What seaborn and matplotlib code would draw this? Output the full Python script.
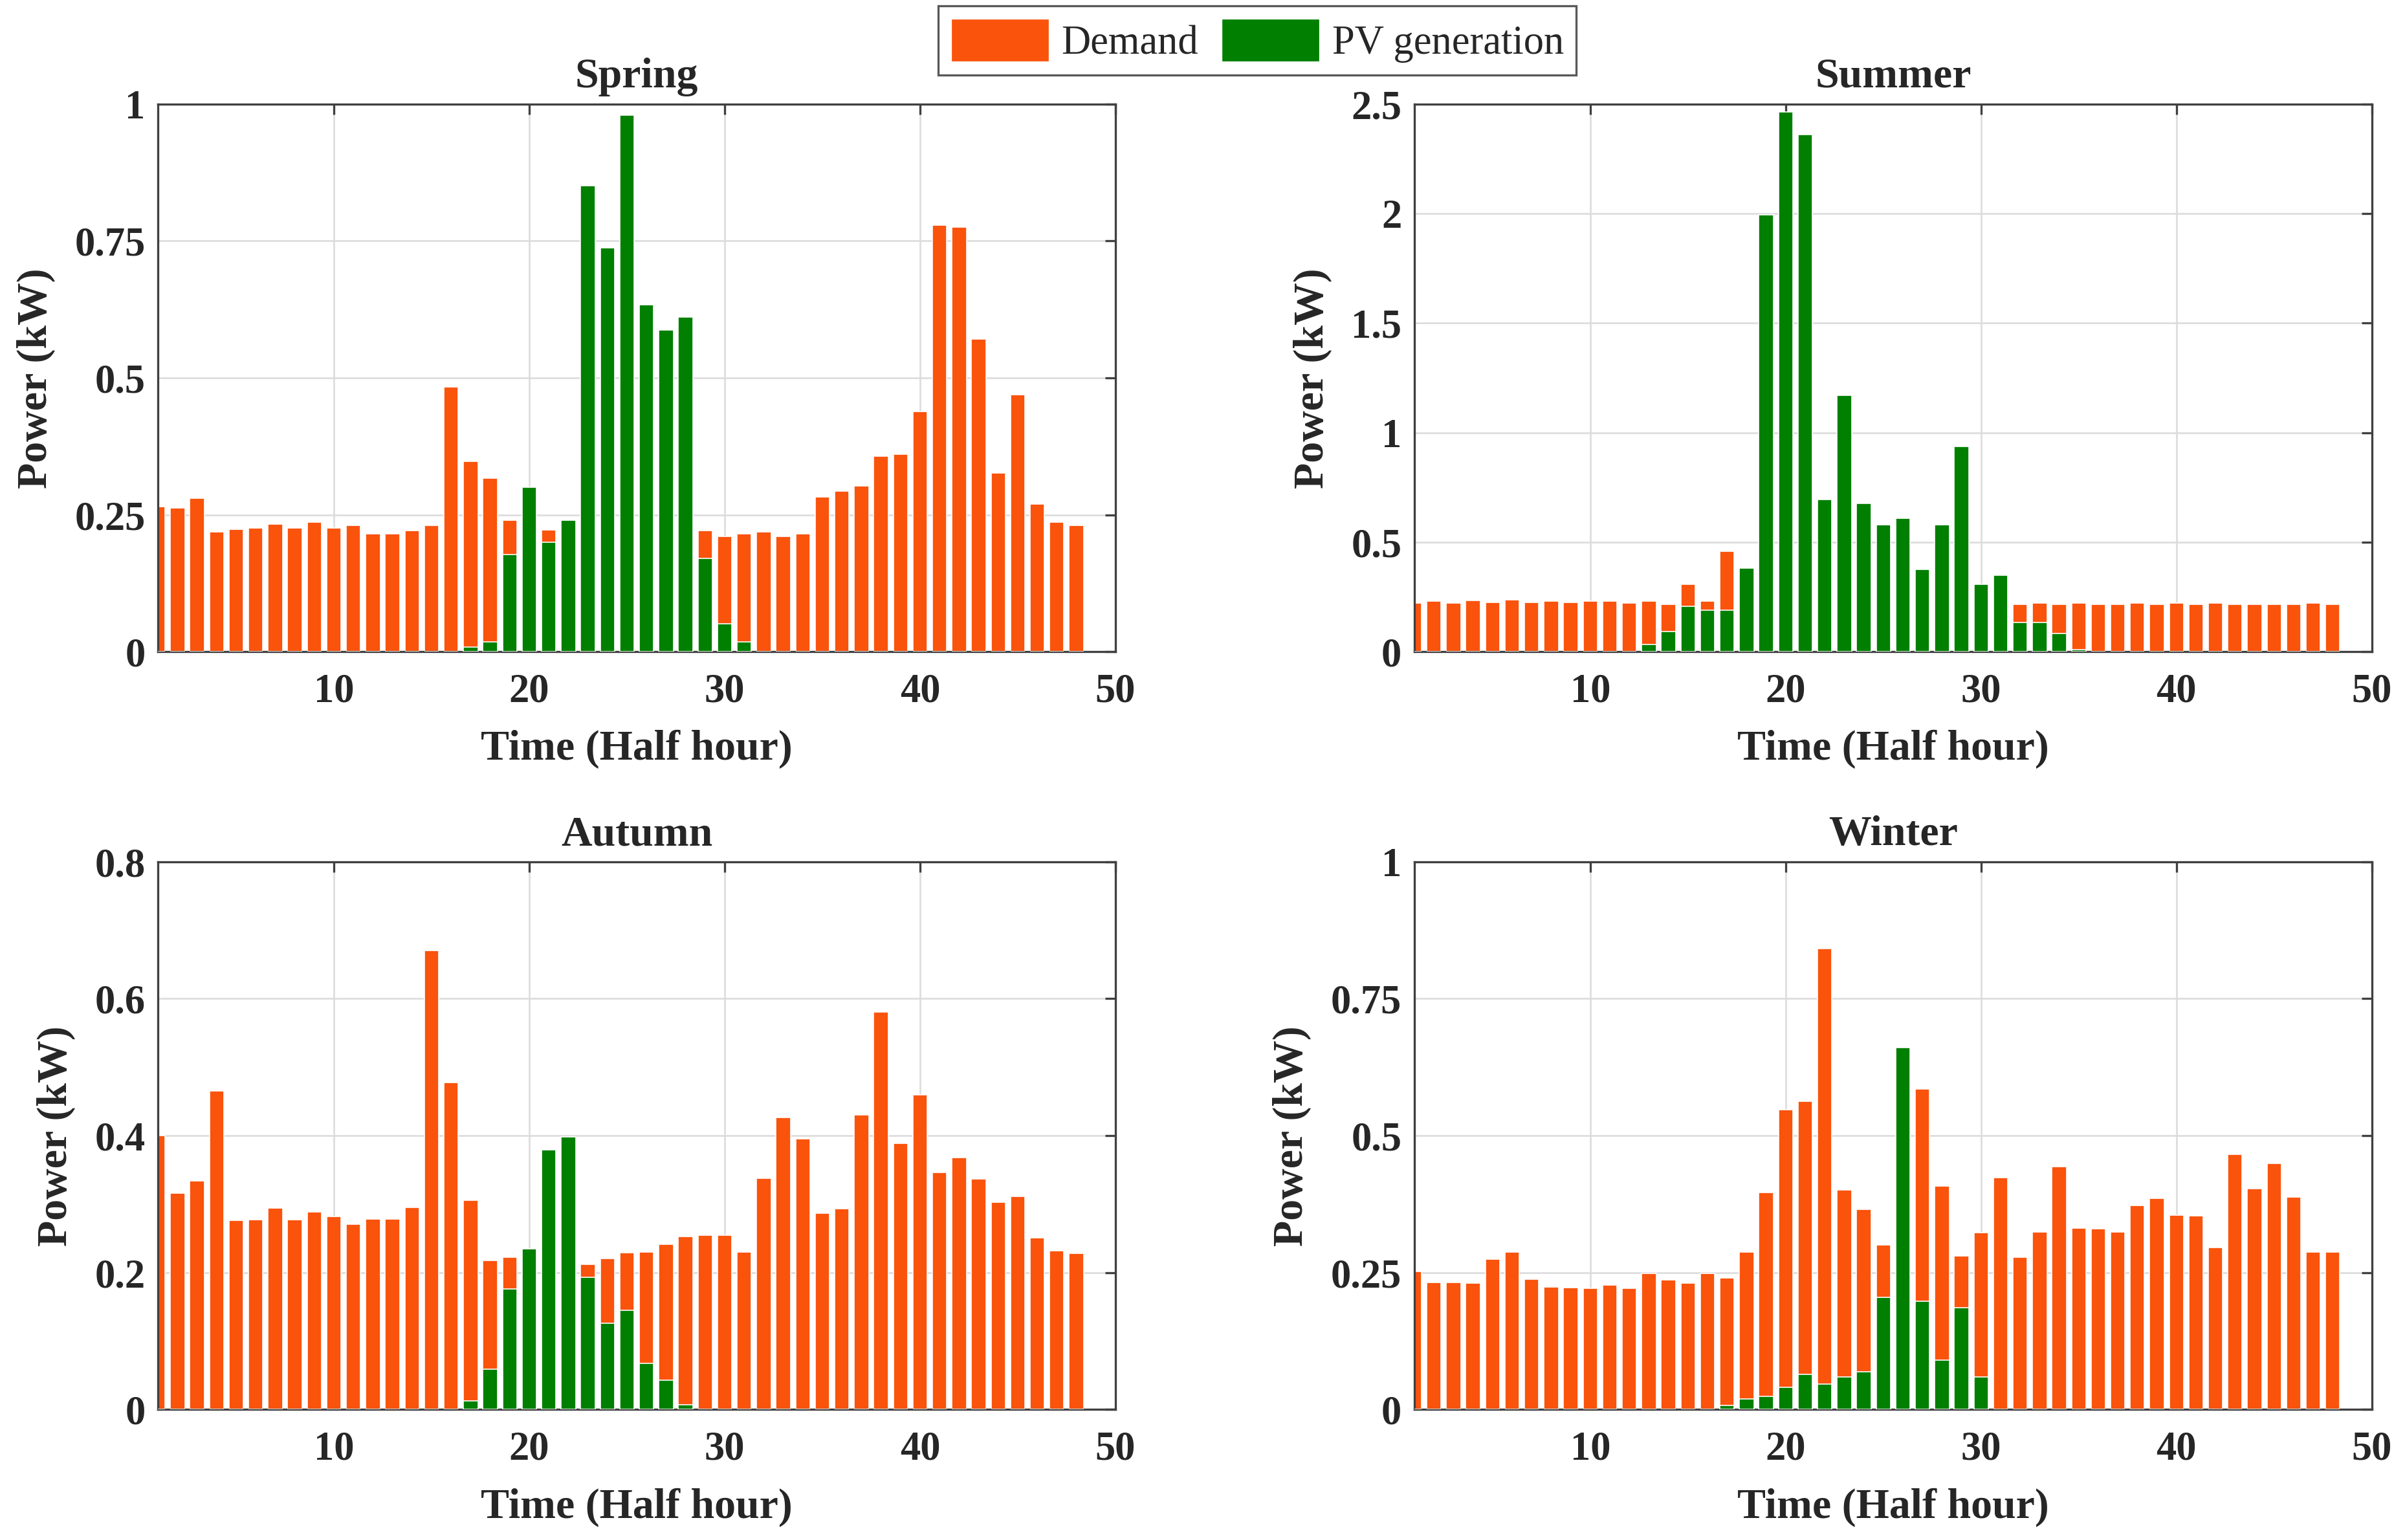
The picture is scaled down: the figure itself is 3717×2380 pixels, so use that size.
import numpy as np
import pandas as pd
import matplotlib
matplotlib.use("Agg")
import matplotlib.pyplot as plt
from matplotlib.patches import Patch
import seaborn as sns

# ================================
# Data (kW per half hour)
# ================================
hours = list(range(1, 49))

spring_demand = [0.265, 0.262, 0.28, 0.219, 0.223, 0.226, 0.233, 0.226, 0.237, 0.226,
                 0.23, 0.215, 0.215, 0.221, 0.23, 0.483, 0.347, 0.317, 0.24, 0.213,
                 0.222, 0.21, 0.217, 0.217, 0.21, 0.22, 0.213, 0.213, 0.221, 0.211,
                 0.215, 0.219, 0.211, 0.215, 0.283, 0.293, 0.303, 0.357, 0.361, 0.439,
                 0.779, 0.775, 0.571, 0.326, 0.469, 0.269, 0.237, 0.23]
spring_pv = [0] * 16 + [0.008, 0.018, 0.177, 0.30, 0.20, 0.24, 0.851, 0.737, 0.979,
                        0.633, 0.587, 0.611, 0.17, 0.051, 0.018] + [0] * 17

summer_demand = [0.223, 0.232, 0.223, 0.233, 0.225, 0.237, 0.225, 0.232, 0.225, 0.23,
                 0.23, 0.223, 0.232, 0.215, 0.308, 0.232, 0.457, 0.24, 0.215, 0.223,
                 0.26, 0.258, 0.225, 0.31, 0.378, 0.28, 0.273, 0.362, 0.332, 0.223,
                 0.345, 0.215, 0.223, 0.215, 0.223, 0.215, 0.215, 0.223, 0.215, 0.223,
                 0.215, 0.223, 0.215, 0.215, 0.215, 0.215, 0.223, 0.215]
summer_pv = [0] * 12 + [0.032, 0.092, 0.208, 0.19, 0.19, 0.382, 1.995, 2.465, 2.36,
                        0.695, 1.17, 0.678, 0.578, 0.61, 0.375, 0.578, 0.938, 0.308,
                        0.348, 0.132, 0.132, 0.082, 0.01] + [0] * 13

autumn_demand = [0.40, 0.316, 0.334, 0.465, 0.276, 0.277, 0.294, 0.277, 0.289, 0.282,
                 0.271, 0.278, 0.278, 0.295, 0.67, 0.478, 0.306, 0.218, 0.222, 0.212,
                 0.218, 0.215, 0.212, 0.221, 0.229, 0.23, 0.241, 0.253, 0.255, 0.255,
                 0.23, 0.338, 0.427, 0.395, 0.287, 0.293, 0.43, 0.581, 0.389, 0.46,
                 0.346, 0.368, 0.337, 0.303, 0.311, 0.251, 0.232, 0.228]
autumn_pv = [0] * 16 + [0.013, 0.059, 0.176, 0.235, 0.379, 0.398, 0.193, 0.126, 0.145,
                        0.067, 0.043, 0.007] + [0] * 20

winter_demand = [0.252, 0.232, 0.232, 0.231, 0.275, 0.288, 0.238, 0.224, 0.223, 0.221,
                 0.227, 0.221, 0.248, 0.237, 0.231, 0.248, 0.24, 0.287, 0.396, 0.547,
                 0.563, 0.841, 0.401, 0.366, 0.30, 0.50, 0.585, 0.408, 0.28, 0.323,
                 0.423, 0.278, 0.324, 0.443, 0.331, 0.33, 0.324, 0.373, 0.386, 0.355,
                 0.354, 0.296, 0.466, 0.403, 0.449, 0.388, 0.287, 0.287]
winter_pv = [0] * 16 + [0.007, 0.019, 0.024, 0.041, 0.064, 0.047, 0.059, 0.069, 0.205,
                        0.661, 0.198, 0.09, 0.186, 0.06] + [0] * 18

seasons = ["Spring", "Summer", "Autumn", "Winter"]
demand = [spring_demand, summer_demand, autumn_demand, winter_demand]
pv = [spring_pv, summer_pv, autumn_pv, winter_pv]
yticks = [[0, 0.25, 0.5, 0.75, 1], [0, 0.5, 1, 1.5, 2, 2.5],
          [0, 0.2, 0.4, 0.6, 0.8], [0, 0.25, 0.5, 0.75, 1]]
yticklabels = [["0", "0.25", "0.5", "0.75", "1"], ["0", "0.5", "1", "1.5", "2", "2.5"],
               ["0", "0.2", "0.4", "0.6", "0.8"], ["0", "0.25", "0.5", "0.75", "1"]]

demand_color = "#FA530C"
pv_color = "#007F00"

# ================================
# Style
# ================================
sns.set_style("white")
plt.rcParams["font.family"] = ["Liberation Serif", "DejaVu Serif"]
plt.rcParams["font.weight"] = "bold"

fig = plt.figure(figsize=(15.68, 10.04), dpi=237.1)

# axes boxes (left, bottom, width, height)
boxes = [(0.0657, 0.5767, 0.398, 0.3556), (0.588, 0.5767, 0.398, 0.3556),
         (0.0657, 0.0847, 0.398, 0.3556), (0.588, 0.0847, 0.398, 0.3556)]

for i, season in enumerate(seasons):
    ax = fig.add_axes(boxes[i])
    df = pd.DataFrame({"hour": hours, "demand": demand[i], "pv": pv[i]})
    sns.barplot(data=df, x="hour", y="demand", native_scale=True, color=demand_color,
                saturation=1, width=0.74, edgecolor="white", linewidth=0.5,
                errorbar=None, ax=ax, zorder=2)
    sns.barplot(data=df, x="hour", y="pv", native_scale=True, color=pv_color,
                saturation=1, width=0.74, edgecolor="white", linewidth=0.5,
                errorbar=None, ax=ax, zorder=3)

    ax.set_xlim(1, 50)
    ax.set_xticks([10, 20, 30, 40, 50])
    ax.set_xticklabels(["10", "20", "30", "40", "50"])
    ax.set_ylim(yticks[i][0], yticks[i][-1])
    ax.set_yticks(yticks[i])
    ax.set_yticklabels(yticklabels[i])

    ax.grid(True, color="#dcdcdc", linewidth=0.8, zorder=0)
    ax.set_axisbelow(True)
    for sp in ax.spines.values():
        sp.set_visible(True)
        sp.set_color("#404040")
        sp.set_linewidth(1.0)
    ax.tick_params(direction="in", length=5, width=1, color="#404040",
                   top=True, right=True, labelsize=19)
    ax.tick_params(axis="x", pad=10)
    ax.tick_params(axis="y", pad=6)
    for lab in ax.get_xticklabels() + ax.get_yticklabels():
        lab.set_fontweight("bold")

    ax.set_title(season, fontsize=20, fontweight="bold", pad=8)
    ax.set_xlabel("Time (Half hour)", fontsize=20, fontweight="bold", labelpad=9)
    ax.set_ylabel("Power (kW)", fontsize=20, fontweight="bold", labelpad=9)

handles = [Patch(facecolor=demand_color, edgecolor="white", label="Demand"),
           Patch(facecolor=pv_color, edgecolor="white", label="PV generation")]
leg = fig.legend(handles=handles, loc="upper center", bbox_to_anchor=(0.5226, 0.996),
                 ncol=2, frameon=True, fancybox=False, edgecolor="#303030",
                 prop={"family": "Liberation Serif", "size": 19, "weight": "normal"},
                 handlelength=2.45, handleheight=1.3, columnspacing=0.55,
                 handletextpad=0.3, borderpad=0.3, borderaxespad=0)
leg.get_frame().set_linewidth(1.0)

fig.savefig("out.png", dpi=237.1)
